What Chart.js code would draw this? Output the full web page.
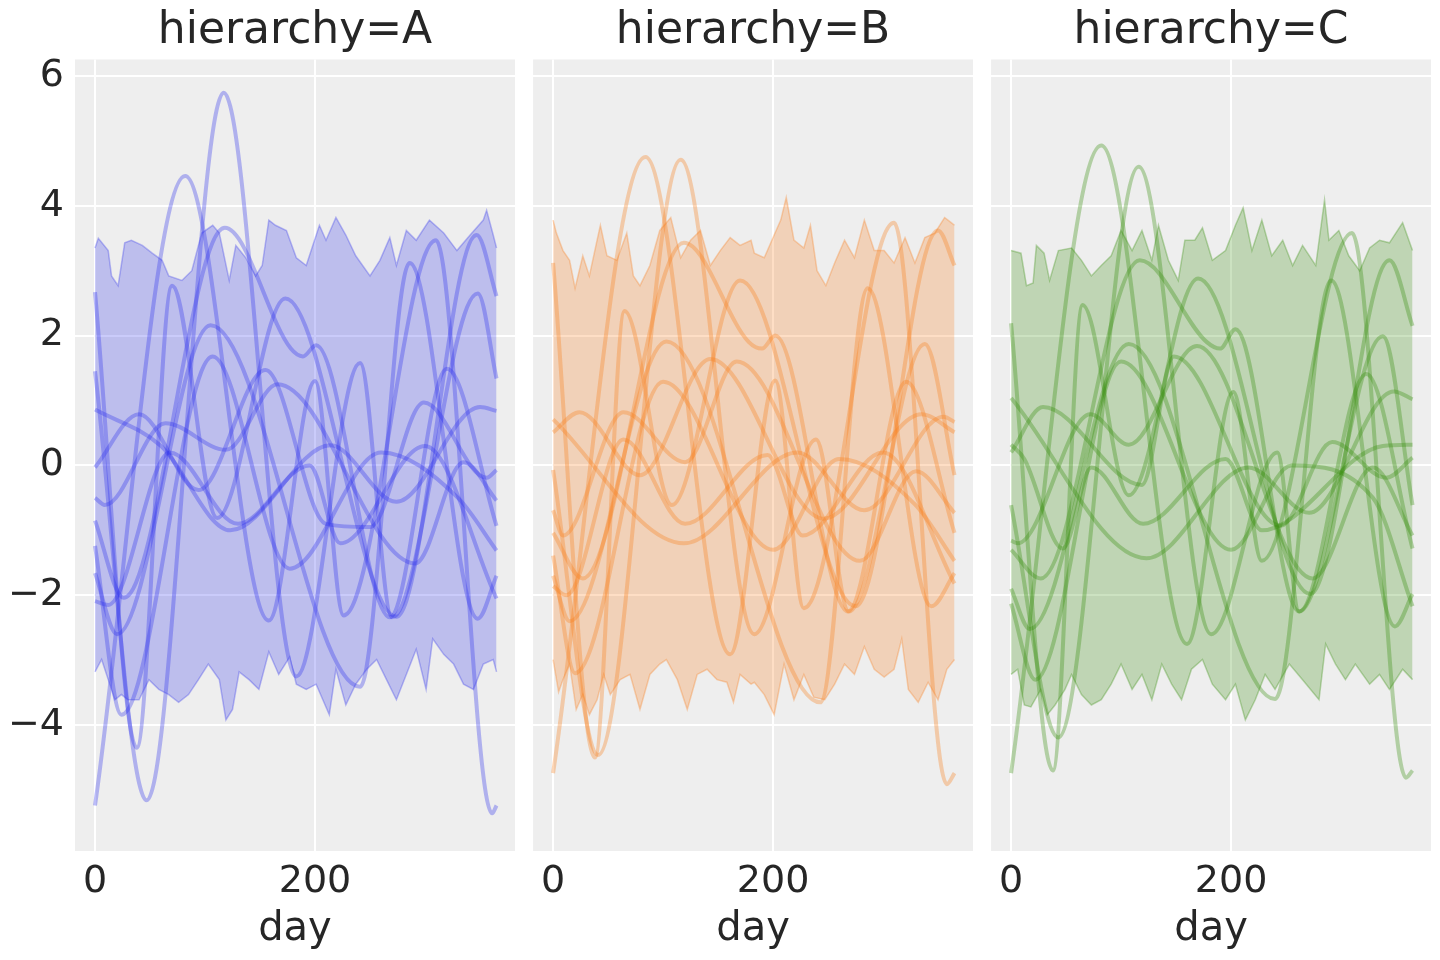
<!DOCTYPE html>
<html>
<head>
<meta charset="utf-8">
<script src="https://cdn.jsdelivr.net/npm/chart.js@4.4.1/dist/chart.umd.min.js"></script>
<style>
  html, body { margin: 0; padding: 0; background: #fff; }
  body { width: 1440px; height: 960px; position: relative; overflow: hidden; }
  .panel { position: absolute; top: 0; height: 960px; }
</style>
</head>
<body>
<div class="panel" style="left:0px;width:515px"><canvas id="chartA"></canvas></div>
<div class="panel" style="left:533px;width:440px"><canvas id="chartB"></canvas></div>
<div class="panel" style="left:991px;width:440px"><canvas id="chartC"></canvas></div>
<script>
// titles and ticks
const panelTitles = ["hierarchy=A", "hierarchy=B", "hierarchy=C"]
const xTicks = [0, 200]
const yTicks = [-4, -2, 0, 2, 4, 6]
const xLabel = "day"

// band edges, [day, value]
const upperA = [[0,3.35],[3,3.5],[12,3.31],[15,2.92],[21,2.77],[27,3.43],[33,3.47],[43,3.39],[52,3.27],[61,3.16],[67,2.92],[79,2.85],[88,3.0],[97,3.58],[107,3.7],[113,3.58],[122,2.85],[128,3.39],[137,3.2],[146,2.92],[152,3.08],[158,3.78],[164,3.7],[174,3.62],[183,3.2],[192,3.08],[204,3.7],[210,3.47],[219,3.82],[228,3.55],[237,3.23],[250,2.92],[259,3.16],[268,3.51],[274,3.08],[283,3.62],[292,3.47],[304,3.78],[317,3.58],[329,3.31],[341,3.55],[353,3.78],[356,3.93],[362,3.55],[365,3.35]]
const lowerA = [[0,-3.18],[6,-2.99],[12,-3.3],[18,-3.61],[24,-3.53],[30,-3.61],[40,-3.61],[49,-3.3],[58,-3.45],[67,-3.53],[76,-3.65],[85,-3.53],[94,-3.3],[103,-3.06],[113,-3.3],[119,-3.92],[125,-3.76],[131,-3.18],[140,-3.3],[149,-3.45],[158,-2.87],[167,-3.22],[177,-2.95],[183,-3.37],[192,-3.45],[201,-3.37],[213,-3.84],[219,-3.14],[228,-3.69],[237,-3.37],[247,-3.14],[256,-2.99],[265,-3.3],[274,-3.61],[283,-3.22],[292,-2.83],[301,-3.45],[307,-2.67],[317,-2.91],[326,-3.06],[335,-3.37],[344,-3.45],[353,-3.06],[362,-2.99],[365,-3.18]]
const upperB = [[0,3.78],[3,3.58],[9,3.31],[15,3.16],[20,2.73],[27,3.23],[33,2.92],[40,3.47],[43,3.7],[49,3.23],[58,3.16],[67,3.58],[73,2.92],[79,2.77],[88,3.08],[97,3.62],[107,3.82],[116,3.2],[125,3.47],[134,3.62],[143,3.08],[152,3.31],[161,3.51],[170,3.39],[180,3.47],[183,3.27],[192,3.2],[201,3.55],[207,3.78],[212,4.13],[219,3.47],[228,3.35],[234,3.7],[240,3.0],[248,2.77],[256,3.12],[265,3.47],[274,3.2],[283,3.78],[292,3.31],[301,3.31],[310,3.12],[320,3.51],[329,3.12],[338,3.51],[347,3.58],[356,3.82],[362,3.74],[365,3.7]]
const lowerB = [[0,-2.99],[5,-3.49],[9,-3.3],[15,-3.06],[21,-3.76],[27,-3.53],[33,-3.84],[40,-3.61],[46,-3.22],[52,-3.53],[61,-3.3],[70,-3.22],[79,-3.76],[88,-3.22],[97,-3.06],[103,-2.99],[113,-3.3],[122,-3.76],[131,-3.22],[140,-3.14],[149,-3.3],[158,-3.34],[164,-3.65],[170,-3.22],[180,-3.37],[183,-3.34],[192,-3.53],[201,-3.84],[210,-3.06],[219,-3.61],[228,-3.22],[237,-3.57],[247,-3.61],[256,-3.37],[265,-3.06],[274,-3.22],[283,-2.79],[292,-3.14],[301,-3.26],[310,-3.14],[317,-2.67],[323,-3.45],[332,-3.65],[341,-3.34],[350,-3.61],[358,-3.14],[365,-2.99]]
const upperC = [[0,3.31],[9,3.27],[14,2.77],[20,2.81],[23,3.39],[30,3.27],[35,2.85],[43,3.31],[55,3.35],[64,3.16],[73,2.92],[82,3.08],[91,3.23],[100,3.62],[110,3.31],[119,3.62],[128,3.16],[134,3.7],[143,3.16],[152,2.85],[158,3.47],[167,3.47],[174,3.66],[183,3.16],[195,3.31],[204,3.7],[211,3.97],[219,3.31],[228,3.78],[237,3.23],[247,3.47],[256,3.08],[265,3.39],[277,3.08],[285,4.09],[289,3.47],[298,3.62],[307,3.23],[317,3.0],[326,3.35],[335,3.47],[344,3.43],[356,3.74],[365,3.31]]
const lowerC = [[0,-3.22],[6,-3.14],[12,-3.69],[18,-3.72],[27,-3.45],[33,-3.84],[40,-3.69],[49,-3.45],[55,-3.22],[64,-3.53],[73,-3.69],[82,-3.61],[91,-3.37],[100,-3.06],[110,-3.45],[119,-3.22],[128,-3.61],[137,-3.06],[146,-3.37],[155,-3.61],[164,-3.14],[174,-2.99],[183,-3.37],[195,-3.61],[204,-3.37],[213,-3.92],[222,-3.61],[231,-3.22],[240,-3.45],[253,-3.06],[265,-3.3],[280,-3.61],[286,-2.75],[295,-3.06],[304,-3.3],[313,-3.06],[326,-3.37],[335,-3.22],[344,-3.45],[356,-3.14],[365,-3.3]]

// seasonal curves, [day, value] at turning points
const curvesA = [
    [[0,-5.24],[82,4.46],[158,-2.39],[200,1.3],[226,-2.31],[310,3.47],[361,-5.36],[365,-5.24]],
    [[0,1.45],[47,-5.16],[117,5.74],[183,-3.25],[241,1.58],[270,-2.34],[348,2.65],[365,1.34]],
    [[0,2.67],[38,-4.35],[70,2.77],[111,-0.81],[173,2.57],[274,-2.33],[347,3.55],[365,2.61]],
    [[0,-1.66],[20,-2.6],[105,2.16],[241,-3.41],[286,3.12],[348,-2.36],[365,-1.7]],
    [[0,-0.03],[40,0.79],[94,-0.38],[155,1.47],[210,-0.9],[250,-0.95],[299,0.97],[356,-0.19],[365,-0.07]],
    [[0,0.86],[60,0.3],[123,-1.0],[214,0.31],[274,-0.56],[350,0.9],[365,0.84]],
    [[0,-0.5],[9,-0.61],[64,0.65],[119,0.24],[166,1.25],[291,-1.51],[335,0.05],[365,-0.54]],
    [[0,-0.85],[26,-2.04],[118,3.66],[178,1.8],[189,1.68],[201,1.85],[268,-2.34],[320,1.49],[365,-0.93]],
    [[0,-1.24],[24,-3.84],[107,1.68],[177,-1.59],[260,0.2],[330,-0.5],[365,-1.31]],
    [[0,-2.09],[12,-2.15],[68,0.2],[130,-0.9],[195,0.0],[223,-1.2],[300,0.3],[365,-2.05]]
]
const curvesB = [
    [[0,-4.74],[84,4.75],[161,-2.91],[202,1.31],[228,-2.2],[310,3.74],[358,-4.91],[365,-4.74]],
    [[0,-0.07],[41,-4.46],[116,4.71],[183,-2.6],[239,0.4],[269,-2.25],[338,1.87],[365,-0.15]],
    [[0,3.12],[38,-4.5],[65,2.38],[108,-0.61],[170,2.85],[275,-2.17],[350,3.62],[365,3.08]],
    [[0,-1.7],[15,-2.4],[103,1.91],[243,-3.65],[286,2.73],[344,-2.17],[365,-1.66]],
    [[0,0.51],[24,0.82],[79,-0.15],[143,1.64],[246,-0.82],[335,0.79],[365,0.51]],
    [[0,0.71],[119,-1.2],[222,0.2],[283,-0.69],[355,0.75],[365,0.67]],
    [[0,-0.69],[9,-1.08],[64,0.82],[120,0.05],[167,1.6],[279,-1.47],[330,-0.09],[365,-0.73]],
    [[0,-1.04],[27,-1.74],[119,3.43],[178,1.9],[190,1.8],[202,2.0],[268,-2.25],[321,1.29],[365,-1.04]],
    [[0,-1.39],[20,-3.2],[100,1.29],[200,-1.3],[260,0.1],[329,-0.6],[365,-1.47]],
    [[0,-1.86],[12,-2.0],[64,0.4],[120,-0.9],[195,0.16],[227,-1.08],[300,0.2],[365,-1.82]]
]
const curvesC = [
    [[0,-4.74],[82,4.93],[160,-2.75],[202,1.13],[228,-1.47],[310,3.58],[359,-4.81],[365,-4.7]],
    [[0,-0.61],[43,-4.19],[116,4.6],[182,-2.6],[242,0.2],[262,-2.25],[338,1.99],[365,-0.61]],
    [[0,2.19],[38,-4.7],[65,2.47],[107,-0.46],[170,2.88],[272,-1.98],[344,3.16],[365,2.15]],
    [[0,-1.9],[17,-2.52],[107,1.87],[240,-3.6],[291,2.85],[349,-2.48],[365,-1.98]],
    [[0,0.2],[29,0.9],[119,-0.3],[148,1.68],[245,-0.93],[292,0.36],[341,-0.19],[365,0.12]],
    [[0,1.04],[123,-1.43],[216,-0.03],[271,-0.73],[348,1.14],[365,1.02]],
    [[0,-1.16],[6,-1.2],[72,0.79],[107,0.32],[169,1.84],[274,-1.74],[329,-0.03],[365,-1.08]],
    [[0,-1.3],[27,-1.74],[117,3.16],[178,1.9],[190,1.8],[204,2.1],[262,-2.25],[323,1.41],[365,-1.28]],
    [[0,-2.13],[22,-3.3],[100,1.6],[200,-1.3],[255,0.0],[329,-0.5],[365,-2.17]],
    [[0,0.32],[12,0.1],[47,-1.28],[73,-0.03],[120,-0.9],[195,0.1],[228,-1.0],[338,0.3],[365,0.32]]
]

const panelColors = ["42,46,236", "250,124,23", "50,140,6"]
const textColor = "#262626"
const fontFamily = "'DejaVu Sans', sans-serif"

// grey plot background
const plotBackground = {
    id: "plotBackground",
    beforeDraw(chart) {
        const { ctx, chartArea } = chart
        ctx.save()
        ctx.fillStyle = "#eeeeee"
        ctx.fillRect(chartArea.left, chartArea.top, chartArea.width, chartArea.height)
        ctx.restore()
    }
}

// panel title centred over the plot area
const panelTitle = {
    id: "panelTitle",
    afterDraw(chart, args, opts) {
        const { ctx, chartArea } = chart
        ctx.save()
        ctx.font = "44px " + fontFamily
        ctx.fillStyle = textColor
        ctx.textAlign = "center"
        ctx.textBaseline = "alphabetic"
        ctx.fillText(opts.text, (chartArea.left + chartArea.right) / 2, 43)
        ctx.restore()
    }
}

const toPoints = arr => arr.map(([x, y]) => ({ x, y }))
const fmtTick = v => (v < 0 ? "\u2212" + Math.abs(v) : String(v))

function renderPanel(id, title, upper, lower, curves, rgb, showY) {
    const datasets = [
        { data: toPoints(lower), borderColor: `rgba(${rgb},0.3)`, borderWidth: 1.5, pointRadius: 0, fill: false, order: 20 },
        { data: toPoints(upper), borderColor: `rgba(${rgb},0.3)`, borderWidth: 1.5, pointRadius: 0,
          fill: { target: 0 }, backgroundColor: `rgba(${rgb},0.25)`, order: 19 }
    ]
    curves.forEach(c => datasets.push({
        data: toPoints(c), borderColor: `rgba(${rgb},0.32)`, borderWidth: 4, pointRadius: 0,
        cubicInterpolationMode: "monotone", fill: false, order: 1
    }))

    return new Chart(document.getElementById(id), {
        type: "line",
        data: { datasets },
        options: {
            responsive: true,
            maintainAspectRatio: false,
            devicePixelRatio: 1,
            animation: false,
            layout: { padding: { top: 59.5, left: 0, right: 0, bottom: 0 } },
            plugins: {
                legend: { display: false },
                tooltip: { enabled: false },
                panelTitle: { text: title }
            },
            scales: {
                x: {
                    type: "linear",
                    min: -18.2,
                    max: 381.8,
                    afterBuildTicks: s => { s.ticks = xTicks.map(v => ({ value: v })) },
                    afterFit: s => { s.height = 109 },
                    ticks: { font: { size: 38, family: fontFamily }, color: textColor, padding: 8, maxRotation: 0 },
                    grid: { color: "#ffffff", lineWidth: 2, drawTicks: false },
                    border: { display: false },
                    title: { display: true, text: xLabel, color: textColor,
                             font: { size: 40, family: fontFamily }, padding: { top: 0, bottom: 6 } }
                },
                y: {
                    type: "linear",
                    min: -5.94,
                    max: 6.254,
                    afterBuildTicks: s => { s.ticks = yTicks.map(v => ({ value: v })) },
                    afterFit: s => { s.width = showY ? 75 : 0 },
                    ticks: { display: showY, font: { size: 38, family: fontFamily }, color: textColor,
                             padding: 11, callback: fmtTick },
                    grid: { color: "#ffffff", lineWidth: 2, drawTicks: false },
                    border: { display: false }
                }
            }
        },
        plugins: [plotBackground, panelTitle]
    })
}

renderPanel("chartA", panelTitles[0], upperA, lowerA, curvesA, panelColors[0], true)
renderPanel("chartB", panelTitles[1], upperB, lowerB, curvesB, panelColors[1], false)
renderPanel("chartC", panelTitles[2], upperC, lowerC, curvesC, panelColors[2], false)
</script>
</body>
</html>
